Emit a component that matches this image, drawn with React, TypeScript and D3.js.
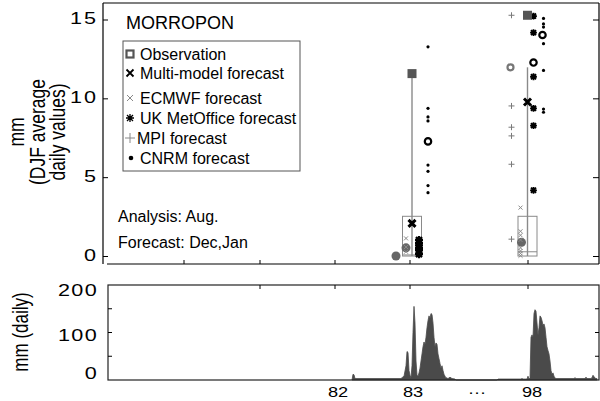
import React from 'react';
import * as d3 from 'd3';

// ---- data ----
const yearLabels = ['83', '98'];
const yearPos = [305, 420.5]; // position on the compressed time axis
const topTickPos = [77, 153, 228, 303, 421];
const bottomTickPos = [153, 228, 303, 421];
const bottomLabels = ['82', '83', '···', '98'];
const bottomLabelPos = [231, 306, 370, 425];
const topYTicks = [0, 5, 10, 15];
const topYLabels = ['0', '5', '10', '15'];
const bottomYTicks = [0, 100, 200];
const bottomYMinor = [50, 100, 150];

const observation = [11.6, 15.3];
const multiModel = [2.1, 9.8];
const boxLow = [0.03, 0.03];
const boxHigh = [2.55, 2.55];
const boxMedian = [0.1, 0.3];
const whiskerHigh = [11.6, 12.0];
const ecmwf = [[1.15, 0.6, 0.3], [3.1, 1.6, 1.35, 1.05, 0.55, 0.35, 0.2, 0.05]];
const ukMet = [[1.05, 0.85, 0.7, 0.55, 0.4, 0.15], [15.25, 14.2, 11.4, 9.4, 8.3, 4.2]];
const mpi = [[], [15.3, 9.55, 8.2, 7.65, 5.85, 1.1]];
const cnrm = [[13.3, 9.4, 8.85, 8.6, 5.8, 5.4, 4.5, 4.05], [15.1, 14.75, 14.55, 13.5, 11.8, 9.35, 9.15]];
const grayDisc = [[0.03, 0.55], [0.9]];
const grayRing = [[], [12.0]];
const blackRing = [[7.3], [12.3, 14.05]];

const rainDay = [
  245, 246, 247, 248, 294, 295, 297, 299, 300, 301, 302, 303, 304, 305, 306, 307, 308, 309, 310, 311, 312, 313,
  314, 315, 316, 317, 318, 319, 320, 321, 322, 323, 324, 325, 326, 327, 328, 329, 330, 331, 332, 333, 334, 335,
  336, 337, 338, 339, 341, 343, 345, 348, 349, 390, 391, 414, 415, 416, 420, 421, 422, 423, 424, 425, 426, 427,
  428, 429, 430, 431, 432, 433, 434, 435, 436, 437, 438, 439, 440, 441, 442, 443, 444, 445, 446, 447, 448, 449,
  450, 460, 467, 468, 469, 478, 479, 480, 484, 485, 486, 488, 489, 490, 492,
];
const rainMm = [
  0, 12, 11, 3, 3, 5, 8, 30, 60, 58, 20, 10, 5, 30, 100, 155, 120, 40, 10, 8, 15, 25,
  40, 55, 70, 80, 75, 90, 110, 125, 135, 130, 140, 138, 120, 90, 70, 78, 75, 55, 45, 35, 25, 30,
  20, 12, 8, 5, 3, 6, 3, 2, 0, 0, 2, 2, 3, 2, 2, 8, 2, 5, 90, 95, 90, 140,
  148, 145, 120, 95, 110, 135, 132, 125, 115, 118, 110, 90, 70, 62, 55, 40, 20, 12, 15, 8, 4, 3,
  3, 3, 3, 5, 3, 3, 6, 3, 3, 5, 10, 4, 3, 3,
];

const FONT = 'Liberation Sans, Arial, Helvetica, sans-serif';

export default function App() {
  const x = d3.scaleLinear().domain([0, 492]).range([107, 599]);
  const y = d3.scaleLinear().domain([0, 15]).range([256.5, 20]);
  const yb = d3.scaleLinear().domain([0, 200]).range([380, 285]);

  const area = d3
    .area<number>()
    .x((_, i) => x(rainDay[i]))
    .y0(yb(0))
    .y1((d) => yb(d));

  const cross = (cx: number, cy: number, s: number) => `M${cx - s},${cy - s}L${cx + s},${cy + s}M${cx - s},${cy + s}L${cx + s},${cy - s}`;
  const plus = (cx: number, cy: number, s: number) => `M${cx - s},${cy}L${cx + s},${cy}M${cx},${cy - s}L${cx},${cy + s}`;
  const star = (cx: number, cy: number, s: number) => cross(cx, cy, s * 0.75) + plus(cx, cy, s);

  const markers: React.ReactNode[] = [];
  yearLabels.forEach((_, gi) => {
    const cx = x(yearPos[gi]);
    markers.push(
      <line key={`wh${gi}`} x1={cx} x2={cx} y1={y(whiskerHigh[gi])} y2={y(boxLow[gi])} stroke="#8a8a8a" strokeWidth={1.4} />
    );
    markers.push(
      <rect key={`bx${gi}`} x={cx - 9.5} width={19} y={y(boxHigh[gi])} height={y(boxLow[gi]) - y(boxHigh[gi])} fill="none" stroke="#8a8a8a" strokeWidth={1} />
    );
    markers.push(
      <line key={`md${gi}`} x1={cx - 9.5} x2={cx + 9.5} y1={y(boxMedian[gi])} y2={y(boxMedian[gi])} stroke="#8a8a8a" strokeWidth={1} />
    );
    const discOff = gi === 0 ? [-16, -6] : [-6];
    grayDisc[gi].forEach((v, i) =>
      markers.push(<circle key={`gd${gi}${i}`} cx={cx + discOff[i]} cy={y(v)} r={4.5} fill="#666" />)
    );
    ecmwf[gi].forEach((v, i) =>
      markers.push(<path key={`ec${gi}${i}`} d={cross(cx + (gi === 0 ? -6 : -7), y(v), 2)} stroke="#8a8a8a" strokeWidth={1} fill="none" />)
    );
    mpi[gi].forEach((v, i) =>
      markers.push(<path key={`mp${gi}${i}`} d={plus(cx - 16, y(v), 3)} stroke="#7a7a7a" strokeWidth={1} fill="none" />)
    );
    grayRing[gi].forEach((v, i) =>
      markers.push(<circle key={`gr${gi}${i}`} cx={cx - 17} cy={y(v)} r={3} fill="none" stroke="#777" strokeWidth={2.2} />)
    );
    ukMet[gi].forEach((v, i) =>
      markers.push(<path key={`uk${gi}${i}`} d={star(cx + (gi === 0 ? 7 : 6), y(v), gi === 0 ? 4 : 3.4)} stroke="#000" strokeWidth={gi === 0 ? 2.2 : 1.8} fill="none" />)
    );
    cnrm[gi].forEach((v, i) =>
      markers.push(<circle key={`cn${gi}${i}`} cx={cx + 16} cy={y(v)} r={1.6} fill="#000" />)
    );
    const ringOff = gi === 0 ? [16] : [6, 15];
    blackRing[gi].forEach((v, i) =>
      markers.push(<circle key={`br${gi}${i}`} cx={cx + ringOff[i]} cy={y(v)} r={3.2} fill="none" stroke="#000" strokeWidth={2.2} />)
    );
    markers.push(
      <rect key={`ob${gi}`} x={cx - 4.5} y={y(observation[gi]) - 4.5} width={9} height={9} fill="#555" />
    );
    markers.push(
      <path key={`mm${gi}`} d={cross(cx, y(multiModel[gi]), 3.5)} stroke="#000" strokeWidth={3} fill="none" />
    );
  });

  const tickLabel = (key: string, tx: number, ty: number, txt: string, sx: number, fs: number, ls: number) => (
    <text key={key} transform={`translate(${tx},${ty}) scale(${sx},1)`} textAnchor="end" fontSize={fs} fontFamily={FONT} letterSpacing={ls} dominantBaseline="central">
      {txt}
    </text>
  );

  const legendItems = ['Observation', 'Multi-model forecast', 'ECMWF forecast', 'UK MetOffice forecast', 'MPI forecast', 'CNRM forecast'];
  const legendY = [54, 73, 98, 118, 138, 158];
  const bottomLabelShift = [-6, 3, 6];

  return (
    <svg width={600} height={401} style={{ position: 'absolute', left: 0, top: 0, background: '#fff' }}>
      <rect width={600} height={401} fill="#fff" />
      {/* top panel frame */}
      <line x1={103} x2={103} y1={3} y2={264} stroke="#000" strokeWidth={1.2} />
      <line x1={103} x2={599} y1={3} y2={3} stroke="#000" strokeWidth={1.2} />
      <line x1={599} x2={599} y1={3} y2={264} stroke="#000" strokeWidth={1.2} />
      <line x1={107} x2={599} y1={264} y2={264} stroke="#000" strokeWidth={1.2} />
      {topYTicks.map((t) => (
        <g key={`yt${t}`}>
          <line x1={103} x2={108} y1={y(t)} y2={y(t)} stroke="#000" />
          <line x1={593} x2={599} y1={y(t)} y2={y(t)} stroke="#000" />
        </g>
      ))}
      {topYTicks.map((t, i) => tickLabel(`ytl${t}`, 98, y(t) - 1, topYLabels[i], 1.35, 16, 1.5))}
      {topTickPos.map((t) => (
        <line key={`xt${t}`} x1={x(t)} x2={x(t)} y1={264} y2={260} stroke="#000" />
      ))}
      {/* y title */}
      <g fontFamily={FONT} fontSize={17.5} textAnchor="middle">
        <text transform={`translate(24,132) rotate(-90) scale(1,1.3)`}>mm</text>
        <text transform={`translate(45,132) rotate(-90) scale(1,1.3)`}>(DJF average</text>
        <text transform={`translate(65,132) rotate(-90) scale(1,1.3)`}>daily values)</text>
      </g>
      <text x={126} y={29} fontFamily={FONT} fontSize={18}>MORROPON</text>
      {/* legend */}
      <rect x={123} y={41} width={177} height={130} fill="#fff" stroke="#555" strokeWidth={1} />
      <rect x={126.5} y={50.5} width={7} height={7} fill="#fff" stroke="#555" strokeWidth={2.2} />
      <path d={cross(130, legendY[1], 3.5)} stroke="#000" strokeWidth={1.8} />
      <path d={cross(130, legendY[2], 3)} stroke="#888" strokeWidth={1} />
      <path d={star(130, legendY[3], 4)} stroke="#000" strokeWidth={1.3} />
      <path d={plus(130, legendY[4], 5)} stroke="#888" strokeWidth={1} />
      <circle cx={131} cy={legendY[5]} r={2.3} fill="#000" />
      {legendItems.map((s, i) => (
        <text key={s} x={i === 4 ? 137 : 140} y={legendY[i]} dominantBaseline="central" fontFamily={FONT} fontSize={16}>
          {s}
        </text>
      ))}
      <text x={118} y={216} dominantBaseline="central" fontFamily={FONT} fontSize={16}>Analysis: Aug.</text>
      <text x={118} y={242} dominantBaseline="central" fontFamily={FONT} fontSize={16}>Forecast: Dec,Jan</text>
      {markers}
      {/* bottom panel */}
      <path d={area(rainMm) || ''} fill="#4a4a4a" stroke="#4a4a4a" strokeWidth={0.8} />
      <rect x={108} y={285} width={491} height={95} fill="none" stroke="#222" strokeWidth={1.2} />
      {bottomYMinor.map((t) => (
        <g key={`byt${t}`}>
          <line x1={108} x2={112} y1={yb(t)} y2={yb(t)} stroke="#000" />
          <line x1={595} x2={599} y1={yb(t)} y2={yb(t)} stroke="#000" />
        </g>
      ))}
      {bottomYTicks.map((t, i) => tickLabel(`bytl${t}`, 98, yb(t) + bottomLabelShift[i], String(t), 1.35, 16, 1))}
      {bottomTickPos.map((t) => (
        <line key={`bxt${t}`} x1={x(t)} x2={x(t)} y1={285} y2={289} stroke="#000" />
      ))}
      {bottomLabels.map((s, i) => (
        <text key={`bxl${i}`} transform={`translate(${x(bottomLabelPos[i])},392) scale(1.3,1)`} textAnchor="middle" dominantBaseline="central" fontFamily={FONT} fontSize={14}>
          {s}
        </text>
      ))}
      <text transform={`translate(28,332) rotate(-90) scale(1,1.3)`} textAnchor="middle" fontFamily={FONT} fontSize={17}>mm (daily)</text>
    </svg>
  );
}
